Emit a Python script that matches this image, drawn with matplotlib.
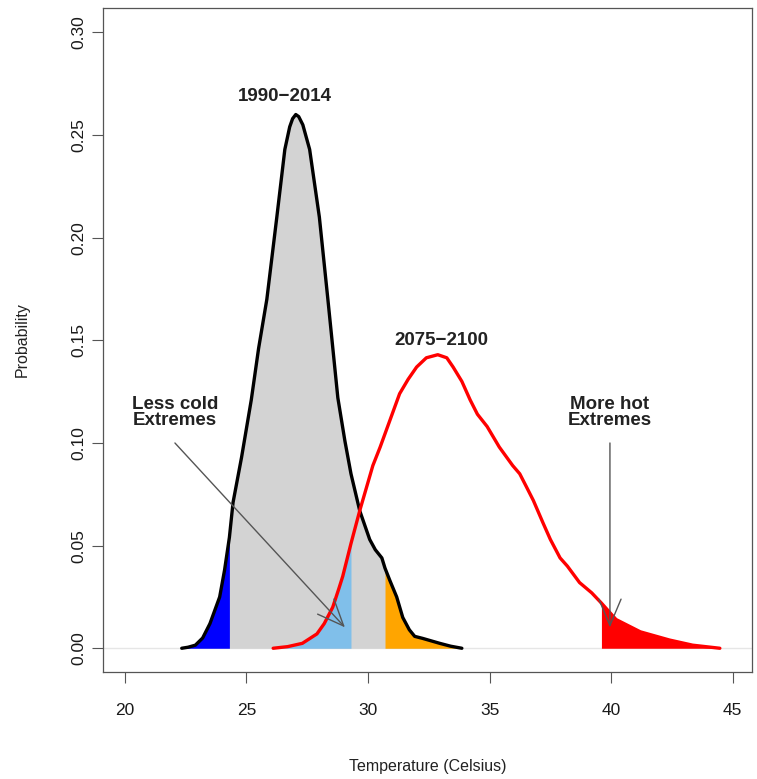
import matplotlib
matplotlib.use("Agg")
import matplotlib.pyplot as plt
import numpy as np

plt.rcParams['font.family'] = ['Liberation Sans', 'DejaVu Sans']

# density of daily temperature, 1990-2014
hist_x = [22.34, 22.6, 22.9, 23.2, 23.5, 23.9, 24.1, 24.3, 24.45, 24.8, 25.2, 25.5, 25.84,
          26.25, 26.58, 26.78, 26.9, 27.03, 27.15, 27.32, 27.6, 28.0, 28.35, 28.76, 29.05,
          29.3, 29.66, 30.07, 30.3, 30.57, 30.7, 30.9, 31.18, 31.43, 31.7, 31.92, 32.25,
          32.6, 32.95, 33.4, 33.86]
hist_y = [0.0, 0.0005, 0.0015, 0.005, 0.012, 0.025, 0.038, 0.054, 0.071, 0.093, 0.121,
          0.146, 0.170, 0.210, 0.243, 0.254, 0.258, 0.260, 0.259, 0.255, 0.243, 0.210,
          0.170, 0.122, 0.101, 0.085, 0.067, 0.053, 0.048, 0.044, 0.039, 0.033, 0.025,
          0.015, 0.009, 0.0058, 0.0048, 0.0036, 0.0024, 0.001, 0.0]

# density of daily temperature, 2075-2100
fut_x = [26.1, 26.7, 27.3, 27.9, 28.2, 28.55, 28.8, 28.96, 29.3, 29.66, 30.2, 30.5, 30.9,
         31.3, 31.65, 32.0, 32.4, 32.87, 33.24, 33.5, 33.86, 34.2, 34.5, 34.9, 35.4, 35.95,
         36.24, 36.5, 36.8, 37.2, 37.5, 37.9, 38.2, 38.7, 39.2, 39.6, 39.9, 40.2, 40.7,
         41.2, 41.8, 42.4, 43.35, 44.47]
fut_y = [0.0, 0.0008, 0.0024, 0.007, 0.012, 0.020, 0.029, 0.035, 0.051, 0.067, 0.089,
         0.098, 0.111, 0.124, 0.131, 0.137, 0.1415, 0.143, 0.1415, 0.137, 0.130, 0.121,
         0.114, 0.108, 0.098, 0.089, 0.085, 0.079, 0.072, 0.061, 0.053, 0.044, 0.040,
         0.032, 0.027, 0.022, 0.018, 0.014, 0.011, 0.008, 0.006, 0.004, 0.0015, 0.0]

cold_cut = 24.3
warm_cut = 30.7
less_cold_cut = 29.3
hot_cut = 39.6

hx, hy = np.array(hist_x), np.array(hist_y)
fx, fy = np.array(fut_x), np.array(fut_y)

fig = plt.figure(figsize=(7.57, 7.79), dpi=100)
ax = fig.add_axes([0.136, 0.137, 0.857, 0.853])

ax.axhline(0, color='#e6e6e6', lw=1, zorder=0)

ax.fill_between(hx, hy, 0, color='#d3d3d3', lw=0, zorder=1)
m = hx <= cold_cut
ax.fill_between(hx[m], hy[m], 0, color='#0000ff', lw=0, zorder=2)
m = hx >= warm_cut
ax.fill_between(hx[m], hy[m], 0, color='#ffa500', lw=0, zorder=2)
m = fx <= less_cold_cut
ax.fill_between(fx[m], fy[m], 0, color='#80bfea', lw=0, zorder=2)
m = fx >= hot_cut
ax.fill_between(fx[m], fy[m], 0, color='#ff0000', lw=0, zorder=2)

ax.plot(hx, hy, color='black', lw=2.4, solid_joinstyle='round', solid_capstyle='round', zorder=3)
ax.plot(fx, fy, color='red', lw=2.4, solid_joinstyle='round', solid_capstyle='round', zorder=3)

arrow = dict(arrowstyle='->,head_length=0.95,head_width=0.4', color='#555555',
             lw=1.0, mutation_scale=20, shrinkA=0, shrinkB=0)
ax.annotate('', xy=(29.05, 0.0102), xytext=(22.06, 0.100), arrowprops=arrow, zorder=4)
ax.annotate('', xy=(39.95, 0.0102), xytext=(39.95, 0.100), arrowprops=arrow, zorder=4)

lab = dict(ha='center', va='center', fontsize=13.5, fontweight='bold', color='#222222',
           linespacing=0.95)
ax.text(26.6, 0.269, '1990\u22122014', **lab)
ax.text(33.0, 0.150, '2075\u22122100', **lab)
ax.text(22.06, 0.115, 'Less cold\nExtremes', **lab)
ax.text(39.95, 0.115, 'More hot\nExtremes', **lab)

ax.set_xlim(19.1, 45.78)
ax.set_ylim(-0.0117, 0.312)
ax.set_xticks([20, 25, 30, 35, 40, 45])
ax.set_yticks([0.0, 0.05, 0.10, 0.15, 0.20, 0.25, 0.30])
ax.set_yticklabels(['0.00', '0.05', '0.10', '0.15', '0.20', '0.25', '0.30'],
                   rotation=90, va='center')
ax.tick_params(axis='both', direction='out', length=8, width=0.8, color='#555555',
               labelsize=12.5, labelcolor='#1a1a1a')
ax.tick_params(axis='x', pad=14)
ax.tick_params(axis='y', pad=4)
for s in ax.spines.values():
    s.set_color('#555555')
    s.set_linewidth(0.9)

ax.set_xlabel('Temperature (Celsius)', fontsize=11.5, color='#222222', labelpad=30)
ax.set_ylabel('Probability', fontsize=11.5, color='#222222', labelpad=30)

fig.savefig('out.png', dpi=100)
